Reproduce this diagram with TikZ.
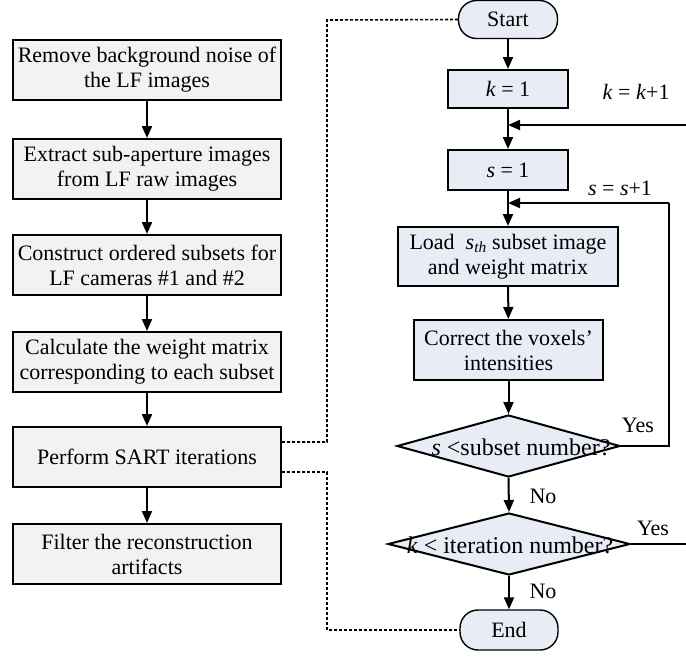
\documentclass[tikz,border=0pt]{standalone}
\usepackage{fontspec}
\setmainfont{Liberation Serif}
\usetikzlibrary{shapes.geometric,arrows.meta}
\definecolor{lgrey}{HTML}{F2F2F2}
\definecolor{lblue}{HTML}{E7ECF5}
\begin{document}
\begin{tikzpicture}[x=1pt,y=-1pt,
  font=\fontsize{22}{25}\selectfont,
  lbox/.style={draw,line width=2pt,fill=lgrey,minimum width=268pt,minimum height=60pt,align=center,inner sep=0pt},
  rbox/.style={draw,line width=2pt,fill=lblue,minimum height=60pt,align=center,inner sep=0pt},
  term/.style={draw,line width=1.4pt,fill=lblue,rounded corners=18pt,minimum width=99pt,minimum height=38pt,inner sep=0pt},
  dia/.style={draw,diamond,line width=2pt,fill=lblue,inner sep=0pt},
  arr/.style={line width=2pt,-{Triangle[length=12pt,width=10pt]}},
  ln/.style={line width=2pt},
  dot/.style={line width=1.6pt,dash pattern=on 3pt off 2pt},
  lab/.style={inner sep=0pt},
  dlab/.style={inner sep=0pt,font=\fontsize{24}{28}\selectfont}]
\useasboundingbox (0,0) rectangle (686,657);
% left column
\node[lbox] (b1) at (147,70) {Remove background noise of\\the LF images};
\node[lbox] (b2) at (147,169) {Extract sub-aperture images\\from LF raw images};
\node[lbox] (b3) at (147,265) {Construct ordered subsets for\\LF cameras \#1 and \#2};
\node[lbox] (b4) at (147,362) {Calculate the weight matrix\\corresponding to each subset};
\node[lbox] (b5) at (147,457) {Perform SART iterations};
\node[lbox] (b6) at (147,554) {Filter the reconstruction\\artifacts};
\draw[arr] (b1) -- (b2);
\draw[arr] (b2) -- (b3);
\draw[arr] (b3) -- (b4);
\draw[arr] (b4) -- (b5);
\draw[arr] (b5) -- (b6);
% right column
\node[term] (st) at (508,19.5) {Start};
\node[rbox,minimum width=120pt,minimum height=38pt] (k1) at (508,89) {\textit{k} = 1};
\node[rbox,minimum width=120pt,minimum height=40pt] (s1) at (508,170) {\textit{s} = 1};
\node[rbox,minimum width=220pt,minimum height=59pt] (ld) at (508,256.5) {Load\ \ \textit{s}\textsubscript{\textit{th}} subset image\\and weight matrix};
\node[rbox,minimum width=189pt,minimum height=60pt] (cr) at (508.5,350) {Correct the voxels’\\intensities};
\node[dia,minimum width=223pt,minimum height=62pt] (d1) at (508.5,446) {};
\node[dlab] (d1t) at (521,447) {\textit{s} <subset number?};
\node[dia,minimum width=242pt,minimum height=62pt] (d2) at (509,544) {};
\node[dlab] (d2t) at (510,545) {\textit{k} < iteration number?};
\node[term,minimum height=40pt,minimum width=98pt] (en) at (509,630) {End};
\coordinate (m1) at (508,125);
\coordinate (m2) at (508,203);
\coordinate (kin) at (686,125);
\coordinate (sr) at (669,203);
\coordinate (sd) at (669,446);
\coordinate (kout) at (686,544);
\draw[arr] (st) -- (k1);
\draw[arr] (k1) -- (s1);
\draw[arr] (s1) -- (ld);
\draw[arr] (ld) -- (cr);
\draw[arr] (cr) -- (d1.north);
\draw[arr] (d1.south) -- (d2.north);
\draw[arr] (d2.south) -- (en);
\draw[arr] (kin) -- (m1);
\draw[ln] (d1.east) -- (sd) -- (sr);
\draw[arr] (sr) -- (m2);
\draw[ln] (d2.east) -- (kout);
\node[lab] (kl) at (636,92) {\textit{k} = \textit{k}+1};
\node[lab] (sl) at (620,188) {\textit{s} = \textit{s}+1};
\node[lab] (y1) at (638,425) {Yes};
\node[lab] (n1) at (543,496) {No};
\node[lab] (y2) at (653,528) {Yes};
\node[lab] (n2) at (543,591) {No};
% dotted links
\coordinate (u1) at (327,442);
\coordinate (u2) at (327,20);
\coordinate (w1) at (327,472);
\coordinate (w2) at (327,630);
\draw[dot] (b5.east |- u1) -- (u1) -- (u2) -- (st.west);
\draw[dot] (b5.east |- w1) -- (w1) -- (w2) -- (en.west);
\end{tikzpicture}
\end{document}
